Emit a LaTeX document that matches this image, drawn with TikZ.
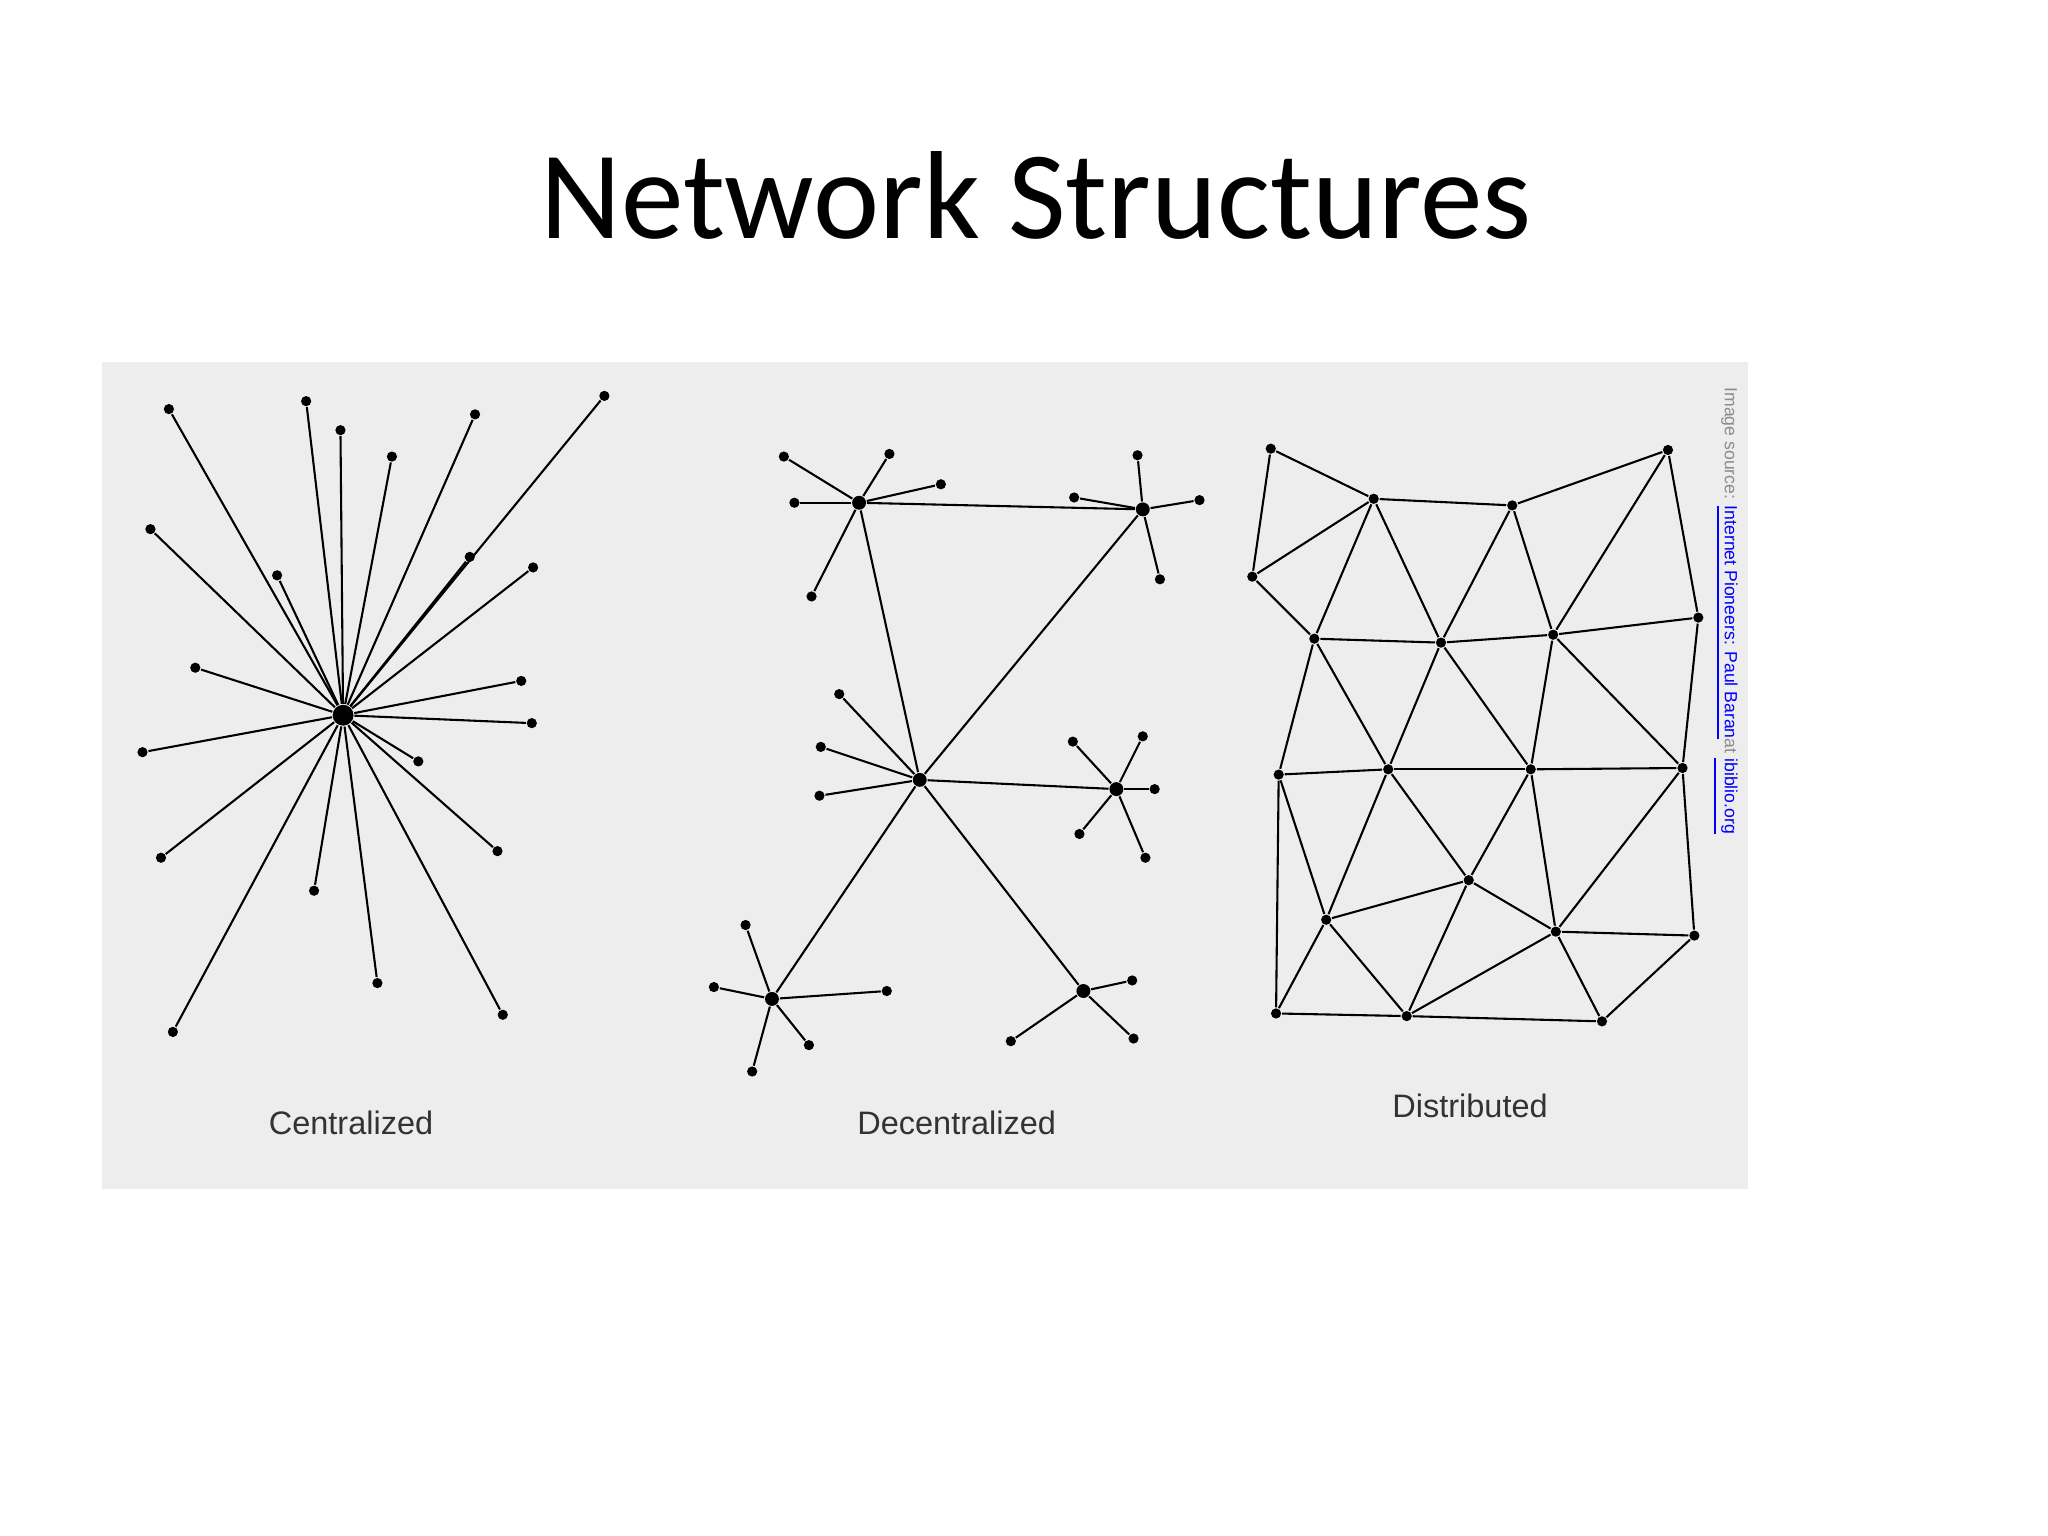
\documentclass[tikz,border=0pt]{standalone}
\usepackage{fontspec}
\setmainfont{Liberation Sans}
\newfontfamily\titlefont{Carlito}
\begin{document}
\begin{tikzpicture}[x=0.01cm,y=-0.01cm,
  edge/.style={line width=0.45pt,black},
  dot/.style={circle,fill=black,inner sep=0pt,minimum size=2.2pt},
  hub/.style={circle,fill=black,inner sep=0pt,minimum size=3pt},
  lbl/.style={font=\fontsize{7}{9}\selectfont,text=black!80}]
\useasboundingbox (0,0) rectangle (1552,1164);
\fill[white] (0,0) rectangle (1552,1164);
\node[font=\titlefont\fontsize{27}{32}\selectfont] (title) at (785,148) {Network Structures};
\fill[black!7] (77,274) rectangle (1325,901);
% Centralized
\node[hub,minimum size=4.5pt] (c0) at (260,542) {};
\foreach \px/\py [count=\i] in {128/310,232/304,258/326,297/346,360/314,458/300,114/401,210/436,356/422,404/430,148/506,395/516,403/548,108/570,317/577,122/650,238/675,377/645,286/745,131/782,381/769}{
  \node[dot] (c\i) at (\px,\py) {};
  \draw[edge] (c0) -- (c\i);
}
% Decentralized
\node[hub] (A) at (651,381) {};
\node[hub] (B) at (866,386) {};
\node[hub] (C) at (697,591) {};
\node[hub] (D) at (846,598) {};
\node[hub] (E) at (585,757) {};
\node[hub] (F) at (821,751) {};
\foreach \a/\b in {A/B,A/C,B/C,C/D,C/E,C/F}{\draw[edge] (\a)--(\b);}
\foreach \h/\px/\py [count=\i] in {A/594/346,A/674/344,A/713/367,A/602/381,A/615/452,
  B/862/345,B/814/377,B/909/379,B/879/439,
  C/636/526,C/622/566,C/621/603,
  D/813/562,D/866/558,D/875/598,D/818/632,D/868/650,
  E/565/701,E/541/748,E/672/751,E/613/792,E/570/812,
  F/858/743,F/766/789,F/859/787}{
  \node[dot] (s\i) at (\px,\py) {};
  \draw[edge] (\h)--(s\i);
}
% Distributed
\foreach \px/\py [count=\i] in {963/340,1041/378,1146/383,1264/341,949/437,996/484,1092/487,1177/481,1287/468,969/587,1052/583,1160/583,1275/582,1113/667,1005/697,1179/706,1284/709,967/768,1066/770,1214/774}{
  \node[dot] (n\i) at (\px,\py) {};
}
\foreach \a/\b in {1/2,1/5,5/2,2/3,3/4,4/9,2/6,2/7,3/7,3/8,4/8,5/6,6/7,7/8,8/9,6/10,6/11,7/11,7/12,8/12,8/13,9/13,10/11,11/12,12/13,10/15,11/15,11/14,12/14,12/16,13/16,13/17,15/14,14/16,16/17,10/18,15/18,15/19,14/19,16/19,16/20,17/20,18/19,19/20}{
  \draw[edge] (n\a)--(n\b);
}
\node[lbl] (l1) at (266,851) {Centralized};
\node[lbl] (l2) at (725,851) {Decentralized};
\node[lbl] (l3) at (1114,838) {Distributed};
\node[rotate=-90,anchor=west,font=\fontsize{3.8}{5}\selectfont,inner sep=0pt] (src) at (1307,293)
  {\textcolor{black!45}{Image source: }\textcolor{blue}{\underline{Internet Pioneers: Paul Baran}}\textcolor{black!45}{ at }\textcolor{blue}{\underline{ibiblio.org}}};
\end{tikzpicture}
\end{document}
